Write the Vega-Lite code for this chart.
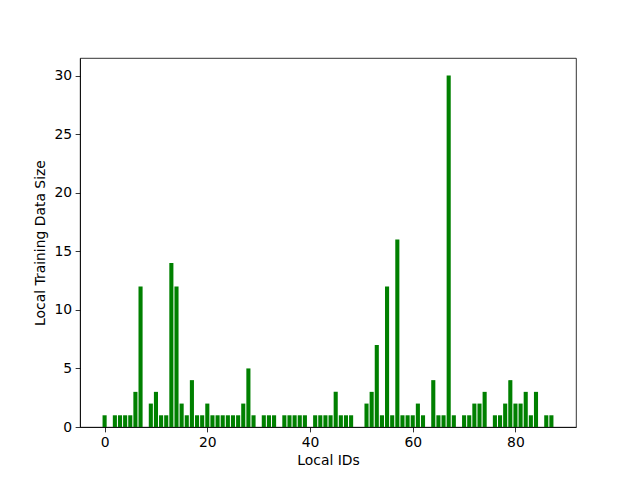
{
  "$schema": "https://vega.github.io/schema/vega-lite/v6.json",
  "autosize": {"type": "none"},
  "width": 496,
  "height": 369,
  "padding": {"left": 80, "top": 58, "right": 64, "bottom": 53},
  "background": "white",
  "data": {"values": [
    {"id": 0, "size": 1}, {"id": 2, "size": 1}, {"id": 3, "size": 1}, {"id": 4, "size": 1}, {"id": 5, "size": 1},
    {"id": 6, "size": 3}, {"id": 7, "size": 12}, {"id": 9, "size": 2}, {"id": 10, "size": 3}, {"id": 11, "size": 1},
    {"id": 12, "size": 1}, {"id": 13, "size": 14}, {"id": 14, "size": 12}, {"id": 15, "size": 2}, {"id": 16, "size": 1},
    {"id": 17, "size": 4}, {"id": 18, "size": 1}, {"id": 19, "size": 1}, {"id": 20, "size": 2}, {"id": 21, "size": 1},
    {"id": 22, "size": 1}, {"id": 23, "size": 1}, {"id": 24, "size": 1}, {"id": 25, "size": 1}, {"id": 26, "size": 1},
    {"id": 27, "size": 2}, {"id": 28, "size": 5}, {"id": 29, "size": 1}, {"id": 31, "size": 1}, {"id": 32, "size": 1},
    {"id": 33, "size": 1}, {"id": 35, "size": 1}, {"id": 36, "size": 1}, {"id": 37, "size": 1}, {"id": 38, "size": 1},
    {"id": 39, "size": 1}, {"id": 41, "size": 1}, {"id": 42, "size": 1}, {"id": 43, "size": 1}, {"id": 44, "size": 1},
    {"id": 45, "size": 3}, {"id": 46, "size": 1}, {"id": 47, "size": 1}, {"id": 48, "size": 1}, {"id": 51, "size": 2},
    {"id": 52, "size": 3}, {"id": 53, "size": 7}, {"id": 54, "size": 1}, {"id": 55, "size": 12}, {"id": 56, "size": 1},
    {"id": 57, "size": 16}, {"id": 58, "size": 1}, {"id": 59, "size": 1}, {"id": 60, "size": 1}, {"id": 61, "size": 2},
    {"id": 62, "size": 1}, {"id": 64, "size": 4}, {"id": 65, "size": 1}, {"id": 66, "size": 1}, {"id": 67, "size": 30},
    {"id": 68, "size": 1}, {"id": 70, "size": 1}, {"id": 71, "size": 1}, {"id": 72, "size": 2}, {"id": 73, "size": 2},
    {"id": 74, "size": 3}, {"id": 76, "size": 1}, {"id": 77, "size": 1}, {"id": 78, "size": 2}, {"id": 79, "size": 4},
    {"id": 80, "size": 2}, {"id": 81, "size": 2}, {"id": 82, "size": 3}, {"id": 83, "size": 1}, {"id": 84, "size": 3},
    {"id": 86, "size": 1}, {"id": 87, "size": 1}
  ]},
  "mark": {"type": "bar", "color": "#008000", "size": 4.1, "orient": "vertical"},
  "encoding": {
    "x": {
      "field": "id", "type": "quantitative", "title": "Local IDs",
      "scale": {"domain": [-4.79, 91.79], "nice": false, "zero": false, "padding": 0},
      "axis": {"values": [0, 20, 40, 60, 80], "grid": false, "titlePadding": 4}
    },
    "y": {
      "field": "size", "type": "quantitative", "title": "Local Training Data Size",
      "scale": {"domain": [0, 31.5], "nice": false, "padding": 0},
      "axis": {"values": [0, 5, 10, 15, 20, 25, 30], "grid": false, "titlePadding": 6}
    }
  },
  "config": {
    "view": {"stroke": "black", "strokeWidth": 0.8},
    "font": "DejaVu Sans",
    "axis": {
      "domainColor": "black", "domainWidth": 0.8,
      "tickColor": "black", "tickWidth": 0.8, "tickSize": 4.86,
      "labelPadding": 3.5, "labelFont": "DejaVu Sans", "labelFontSize": 13.9, "labelColor": "black",
      "titleFont": "DejaVu Sans", "titleFontSize": 13.9, "titleFontWeight": "normal", "titleColor": "black"
    }
  }
}
